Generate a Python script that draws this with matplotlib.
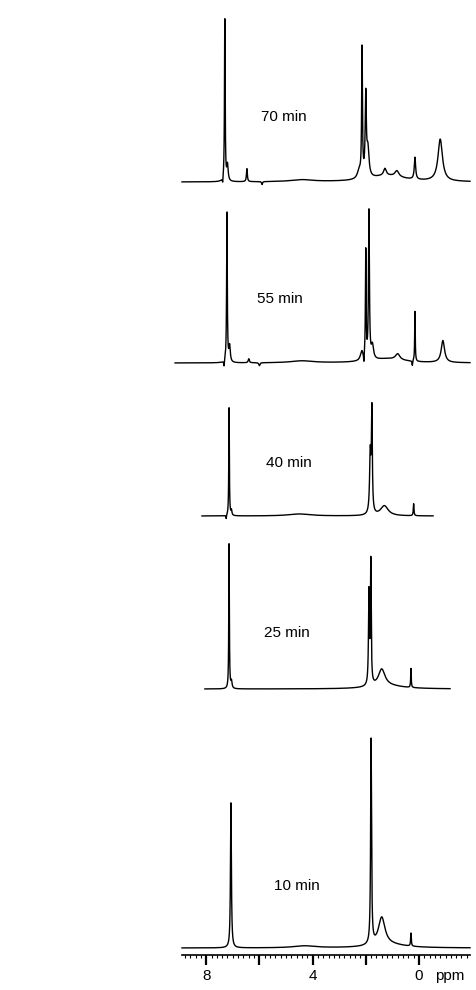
import numpy as np
import matplotlib
matplotlib.use("Agg")
import matplotlib.pyplot as plt
from matplotlib.ticker import MultipleLocator, FixedLocator

plt.rcParams['font.family'] = ['Liberation Sans', 'DejaVu Sans']

# ---- data ----
labels = ["70 min", "55 min", "40 min", "25 min", "10 min"]
# vertical offsets of each trace baseline (arbitrary intensity units)
offsets = [773, 592, 439, 266, 7]
# ppm range covered by each trace (left, right)
ranges = [(8.91, -1.92), (9.17, -1.92), (8.16, -0.53), (8.05, -1.17), (8.91, -1.92)]
# peaks: (position ppm, height, width ppm)
peaks_70 = [(7.30, 162, 0.03), (7.38, -6, 0.03), (7.20, 16, 0.06), (6.47, 13, 0.04),
            (5.9, -3, 0.04), (2.14, 128, 0.035), (2.00, 80, 0.05), (1.92, 28, 0.1),
            (2.25, 8, 0.15), (1.28, 7, 0.12), (0.83, 6, 0.18), (1.2, 6, 1.6),
            (0.15, 22, 0.06), (-0.80, 42, 0.2), (4.4, 2, 1.0)]
peaks_55 = [(7.22, 150, 0.03), (7.33, -6, 0.03), (7.12, 16, 0.06), (6.40, 4, 0.05),
            (6.00, -3, 0.05), (2.00, 108, 0.03), (2.07, -10, 0.03), (1.88, 148, 0.04),
            (2.15, 9, 0.12), (1.75, 14, 0.1), (0.80, 6, 0.2), (1.2, 4, 1.5),
            (0.15, 50, 0.025), (0.25, -5, 0.03), (-0.90, 22, 0.15), (4.4, 2, 1.0)]
peaks_40 = [(7.14, 108, 0.025), (7.05, 5, 0.04), (7.25, -4, 0.03), (1.77, 100, 0.04),
            (1.83, 60, 0.06), (1.30, 10, 0.35), (0.20, 12, 0.03), (4.5, 2, 1.0)]
peaks_25 = [(7.14, 145, 0.025), (7.05, 7, 0.05), (1.88, 92, 0.04), (1.81, 122, 0.035),
            (1.40, 17, 0.3), (0.30, 19, 0.025), (1.2, 3, 1.5)]
peaks_10 = [(7.07, 145, 0.04), (1.80, 205, 0.04), (1.40, 28, 0.3), (0.30, 13, 0.03),
            (4.3, 2, 1.0), (1.1, 3, 1.5)]
all_peaks = [peaks_70, peaks_55, peaks_40, peaks_25, peaks_10]
# label positions (ppm, height above axis)
label_x = [5.08, 5.23, 4.88, 4.96, 4.58]
label_y = [838, 656, 492, 322, 69]
major_ticks = [8, 6, 4, 2, 0]
tick_labels = ["8", "", "4", "", "0"]

# ---- figure ----
fig = plt.figure(figsize=(4.77, 9.90), dpi=100)
ax = fig.add_axes([182 / 477, 35 / 990, (470 - 182) / 477, 955 / 990])
ax.set_xlim(8.91, -1.92)
ax.set_ylim(0, 955)

for off, (a, b), pk in zip(offsets, ranges, all_peaks):
    x = np.linspace(a, b, 8000)
    y = np.zeros_like(x)
    for c, h, w in pk:
        y += h / (1 + (2 * (x - c) / w) ** 2)
    ax.plot(x, y + off, color="black", lw=1.0, clip_on=False)

for t, lx, ly in zip(labels, label_x, label_y):
    ax.text(lx, ly, t, ha="center", va="center", fontsize=11)

for s in ["top", "left", "right"]:
    ax.spines[s].set_visible(False)
ax.spines["bottom"].set_linewidth(1.2)
ax.set_yticks([])
ax.xaxis.set_major_locator(FixedLocator(major_ticks))
ax.set_xticklabels(tick_labels)
ax.xaxis.set_minor_locator(MultipleLocator(0.2))
ax.tick_params(axis="x", which="major", direction="out", length=7, width=1.6,
               labelsize=11, pad=3)
ax.tick_params(axis="x", which="minor", direction="out", length=2.5, width=0.8)
ax.text(-0.62, -(7 + 3) * 100 / 72, "ppm", ha="left", va="top", fontsize=11)

fig.savefig("out.png", dpi=100)
